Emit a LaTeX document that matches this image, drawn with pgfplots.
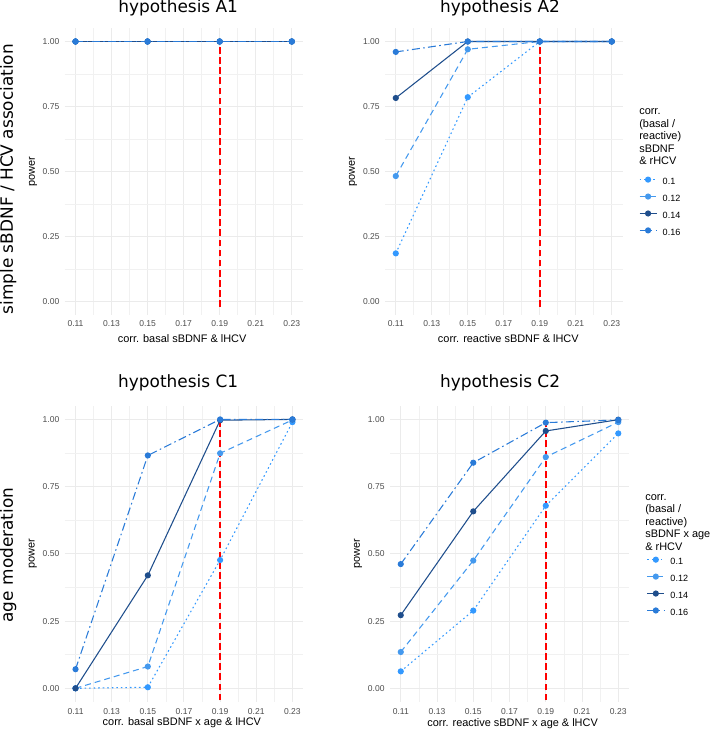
\documentclass[border=0pt]{standalone}
\usepackage{fontspec}
\setmainfont{Liberation Sans}
\newfontfamily\dejavu{DejaVu Sans}
\usepackage{pgfplots}
\pgfplotsset{compat=1.18}

\definecolor{cA}{HTML}{3399FF}
\definecolor{cB}{HTML}{4499EE}
\definecolor{cC}{HTML}{1F4E8C}
\definecolor{cD}{HTML}{2A7BD8}
\definecolor{tick}{HTML}{4D4D4D}
\definecolor{gridc}{HTML}{EBEBEB}

\pgfplotsset{
  panel/.style={
    scale only axis,
    xmin=0.104, xmax=0.236, ymin=-0.05, ymax=1.05,
    xtick={0.11,0.13,0.15,0.17,0.19,0.21,0.23},
    xticklabels={0.11,0.13,0.15,0.17,0.19,0.21,0.23},
    minor xtick={0.12,0.14,0.16,0.18,0.20,0.22},
    ytick={0,0.25,0.5,0.75,1},
    yticklabels={0.00,0.25,0.50,0.75,1.00},
    minor ytick={0.125,0.375,0.625,0.875},
    grid=both,
    major grid style={gridc, line width=0.75pt},
    minor grid style={gridc!70, line width=0.45pt},
    axis line style={draw=none},
    major tick length=0pt, minor tick length=0pt,
    /pgf/number format/assume math mode=true,
    tick label style={font=\fontsize{6.4}{7}\selectfont, text=tick},
    yticklabel style={anchor=east, inner sep=0pt, xshift=-3.8pt},
  },
  s1/.style={cA, line width=0.8pt, dash pattern=on 1.2pt off 2.2pt, mark=*, mark size=1.9pt, mark options={solid}},
  s2/.style={cB, line width=0.8pt, dash pattern=on 4.5pt off 3pt, mark=*, mark size=1.9pt, mark options={solid}},
  s3/.style={cC, line width=0.8pt, solid, mark=*, mark size=1.9pt},
  s4/.style={cD, line width=0.8pt, dash pattern=on 6pt off 2.5pt on 1.2pt off 2.5pt, mark=*, mark size=1.9pt, mark options={solid}},
  vref/.style={red, line width=1.4pt, dash pattern=on 5pt off 2.6pt, mark=none},
  leg/.style={
    legend style={draw=none, fill=none, inner sep=0pt, outer sep=0pt,
      font=\fontsize{6.8}{8}\selectfont, row sep=7.0pt, column sep=4.2pt,
      nodes={inner sep=0pt, text height=5pt, text depth=0pt}},
    legend cell align=left,
    legend image code/.code={
      \draw[##1, mark repeat=2, mark phase=2] plot coordinates {(0pt,1.3pt) (6.4pt,1.3pt) (12.8pt,1.3pt)};},
  },
}

\begin{document}
\begin{tikzpicture}
\path (0,0) rectangle (534.75pt,548.25pt);

% ---------- hypothesis A1
\begin{axis}[panel, at={(48.375pt,312.225pt)}, anchor=south west,
  width=178.5pt, height=214.8pt,
  xticklabel style={anchor=north, inner sep=0pt, yshift=-4.2pt}]
\addplot[vref] coordinates {(0.19,-0.02) (0.19,1)};
\addplot[s1] coordinates {(0.11,1) (0.15,1) (0.19,1) (0.23,1)};
\addplot[s2] coordinates {(0.11,1) (0.15,1) (0.19,1) (0.23,1)};
\addplot[s3] coordinates {(0.11,1) (0.15,1) (0.19,1) (0.23,1)};
\addplot[s4] coordinates {(0.11,1) (0.15,1) (0.19,1) (0.23,1)};
\end{axis}

% ---------- hypothesis A2
\begin{axis}[panel, leg, at={(288.675pt,312.225pt)}, anchor=south west,
  width=178.2pt, height=214.8pt,
  xticklabel style={anchor=north, inner sep=0pt, yshift=-4.2pt},
  legend style={at={(1.0694,0.4810)}, anchor=north west}]
\addplot[vref, forget plot] coordinates {(0.19,-0.02) (0.19,1)};
\addplot[s1] coordinates {(0.11,0.186) (0.15,0.786) (0.19,1) (0.23,1)};
\addplot[s2] coordinates {(0.11,0.483) (0.15,0.970) (0.19,1) (0.23,1)};
\addplot[s3] coordinates {(0.11,0.783) (0.15,1) (0.19,1) (0.23,1)};
\addplot[s4] coordinates {(0.11,0.960) (0.15,1) (0.19,1) (0.23,1)};
\legend{0.1,0.12,0.14,0.16}
\end{axis}

% ---------- hypothesis C1
\begin{axis}[panel, at={(48.375pt,21.94pt)}, anchor=south west,
  width=179.0pt, height=221.9pt,
  xticklabel style={anchor=north, inner sep=0pt, yshift=-5.2pt}]
\addplot[vref] coordinates {(0.19,-0.045) (0.19,1)};
\addplot[s1] coordinates {(0.11,0) (0.15,0.004) (0.19,0.477) (0.23,0.990)};
\addplot[s2] coordinates {(0.11,0) (0.15,0.081) (0.19,0.874) (0.23,0.998)};
\addplot[s3] coordinates {(0.11,0) (0.15,0.420) (0.19,0.997) (0.23,1)};
\addplot[s4] coordinates {(0.11,0.071) (0.15,0.866) (0.19,1) (0.23,1)};
\end{axis}

% ---------- hypothesis C2
\begin{axis}[panel, leg, at={(292.35pt,21.94pt)}, anchor=south west,
  width=179.5pt, height=221.9pt,
  xticklabel style={anchor=north, inner sep=0pt, yshift=-5.2pt},
  legend style={at={(1.0736,0.4889)}, anchor=north west}]
\addplot[vref, forget plot] coordinates {(0.19,-0.045) (0.19,1)};
\addplot[s1] coordinates {(0.11,0.063) (0.15,0.289) (0.19,0.679) (0.23,0.948)};
\addplot[s2] coordinates {(0.11,0.135) (0.15,0.475) (0.19,0.860) (0.23,0.990)};
\addplot[s3] coordinates {(0.11,0.272) (0.15,0.658) (0.19,0.957) (0.23,0.999)};
\addplot[s4] coordinates {(0.11,0.462) (0.15,0.839) (0.19,0.988) (0.23,0.998)};
\legend{0.1,0.12,0.14,0.16}
\end{axis}

% ---------- titles
\begin{scope}[every node/.style={font=\dejavu\fontsize{12.7}{14}\selectfont, inner sep=0pt}]
\node at (133.5pt,542.25pt) {hypothesis A1};
\node at (375pt,542.25pt) {hypothesis A2};
\node at (133.5pt,261pt) {hypothesis C1};
\node at (375pt,261pt) {hypothesis C2};
\node[rotate=90] at (6pt,414pt) {simple sBDNF / HCV association};
\node[rotate=90] at (6pt,132pt) {age moderation};
\end{scope}

% ---------- axis titles
\begin{scope}[every node/.style={font=\fontsize{8.2}{9}\selectfont, inner sep=0pt}]
\node at (136.5pt,294.75pt) {corr. basal sBDNF \& lHCV};
\node at (381.2pt,294.75pt) {corr. reactive sBDNF \& lHCV};
\node at (136.3pt,6pt) {corr. basal sBDNF x age \& lHCV};
\node at (384.4pt,5.25pt) {corr. reactive sBDNF x age \& lHCV};
\node[rotate=90] at (24.75pt,419.5pt) {power};
\node[rotate=90] at (264.75pt,419.5pt) {power};
\node[rotate=90] at (24.4pt,132.75pt) {power};
\node[rotate=90] at (268.5pt,132.75pt) {power};
\end{scope}

% ---------- legend titles
\begin{scope}[every node/.style={font=\fontsize{8.2}{9}\selectfont, inner sep=0pt, anchor=base west}]
\node at (479.25pt,462.4pt) {corr.};
\node at (479.25pt,453.0pt) {(basal /};
\node at (479.25pt,443.6pt) {reactive)};
\node at (479.25pt,434.2pt) {sBDNF};
\node at (479.25pt,424.8pt) {\& rHCV};
\node at (483.75pt,173.25pt) {corr.};
\node at (483.75pt,163.9pt) {(basal /};
\node at (483.75pt,154.5pt) {reactive)};
\node at (483.75pt,145.1pt) {sBDNF x age};
\node at (483.75pt,135.75pt) {\& rHCV};
\end{scope}
\end{tikzpicture}
\end{document}
